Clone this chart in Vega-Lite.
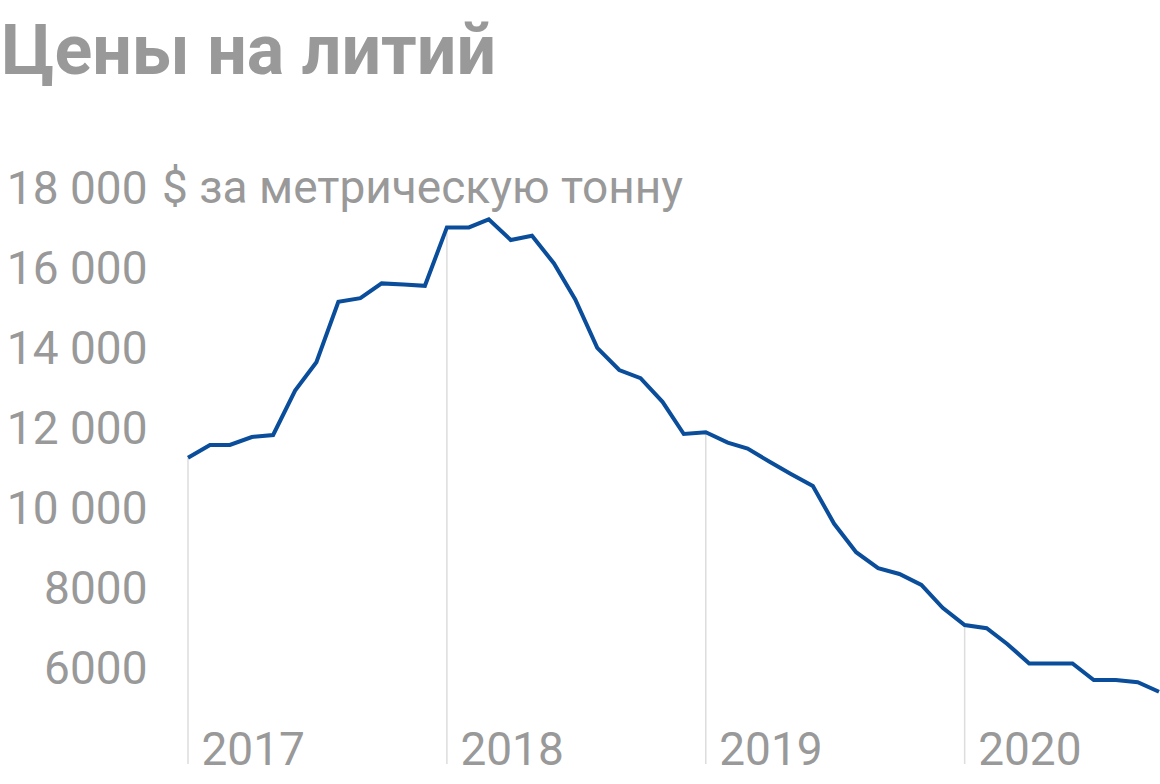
{
  "$schema": "https://vega.github.io/schema/vega-lite/v6.json",
  "autosize": "none",
  "width": 971,
  "height": 575,
  "padding": {"left": 188, "top": 189, "right": 1, "bottom": 20},
  "background": "white",
  "title": {
    "text": "Цены на литий",
    "font": "Roboto",
    "fontSize": 70,
    "fontWeight": "bold",
    "color": "#999999",
    "anchor": "start",
    "frame": "bounds",
    "baseline": "alphabetic",
    "offset": 22,
    "dx": -5
  },
  "data": {
    "values": [
      {"date": "2017-01-01", "price": 11280},
      {"date": "2017-02-01", "price": 11600},
      {"date": "2017-03-01", "price": 11600},
      {"date": "2017-04-01", "price": 11800},
      {"date": "2017-05-01", "price": 11850},
      {"date": "2017-06-01", "price": 12960},
      {"date": "2017-07-01", "price": 13670},
      {"date": "2017-08-01", "price": 15180},
      {"date": "2017-09-01", "price": 15270},
      {"date": "2017-10-01", "price": 15640},
      {"date": "2017-11-01", "price": 15610},
      {"date": "2017-12-01", "price": 15580},
      {"date": "2018-01-01", "price": 17040},
      {"date": "2018-02-01", "price": 17040},
      {"date": "2018-03-01", "price": 17240},
      {"date": "2018-04-01", "price": 16725},
      {"date": "2018-05-01", "price": 16830},
      {"date": "2018-06-01", "price": 16140},
      {"date": "2018-07-01", "price": 15240},
      {"date": "2018-08-01", "price": 14030},
      {"date": "2018-09-01", "price": 13475},
      {"date": "2018-10-01", "price": 13270},
      {"date": "2018-11-01", "price": 12680},
      {"date": "2018-12-01", "price": 11875},
      {"date": "2019-01-01", "price": 11920},
      {"date": "2019-02-01", "price": 11660},
      {"date": "2019-03-01", "price": 11510},
      {"date": "2019-04-01", "price": 11180},
      {"date": "2019-05-01", "price": 10875},
      {"date": "2019-06-01", "price": 10575},
      {"date": "2019-07-01", "price": 9630},
      {"date": "2019-08-01", "price": 8920},
      {"date": "2019-09-01", "price": 8520},
      {"date": "2019-10-01", "price": 8375},
      {"date": "2019-11-01", "price": 8100},
      {"date": "2019-12-01", "price": 7530},
      {"date": "2020-01-01", "price": 7100},
      {"date": "2020-02-01", "price": 7020},
      {"date": "2020-03-01", "price": 6625},
      {"date": "2020-04-01", "price": 6140},
      {"date": "2020-05-01", "price": 6140},
      {"date": "2020-06-01", "price": 6140},
      {"date": "2020-07-01", "price": 5725},
      {"date": "2020-08-01", "price": 5725},
      {"date": "2020-09-01", "price": 5670},
      {"date": "2020-10-01", "price": 5430}
    ]
  },
  "encoding": {
    "x": {
      "field": "date",
      "type": "temporal",
      "scale": {
        "type": "utc",
        "domain": [
          {"year": 2017, "month": 1, "date": 1, "utc": true},
          {"year": 2020, "month": 10, "date": 1, "utc": true}
        ]
      },
      "axis": {
        "title": null,
        "values": [
          {"year": 2017, "month": 1, "date": 1, "utc": true},
          {"year": 2018, "month": 1, "date": 1, "utc": true},
          {"year": 2019, "month": 1, "date": 1, "utc": true},
          {"year": 2020, "month": 1, "date": 1, "utc": true}
        ],
        "format": "%Y",
        "labelAlign": "left",
        "labelOffset": 13,
        "labelBaseline": "alphabetic",
        "labelPadding": 0,
        "domain": false,
        "ticks": false,
        "grid": false
      }
    },
    "y": {
      "field": "price",
      "type": "quantitative",
      "scale": {"domain": [3625, 18000], "nice": false, "zero": false},
      "axis": {
        "title": null,
        "values": [6000, 8000, 10000, 12000, 14000, 16000, 18000],
        "labelExpr": "datum.value >= 10000 ? replace(format(datum.value, ','), ',', ' ') : format(datum.value, 'd')",
        "labelPadding": 41,
        "domain": false,
        "ticks": false,
        "grid": false
      }
    }
  },
  "layer": [
    {
      "transform": [{"filter": "utcmonth(datum.date) == 0"}],
      "mark": {"type": "rule", "color": "#dddddd", "strokeWidth": 1.5},
      "encoding": {
        "y2": {"datum": 3625}
      }
    },
    {
      "mark": {"type": "line", "color": "#0a4d9a", "strokeWidth": 4, "strokeJoin": "miter"}
    },
    {
      "transform": [{"filter": "utcmonth(datum.date) == 0 && utcyear(datum.date) == 2017"}],
      "mark": {
        "type": "text",
        "text": "$ за метрическую тонну",
        "font": "Roboto",
        "fontSize": 46,
        "color": "#999999",
        "align": "left",
        "baseline": "middle",
        "dx": -26
      },
      "encoding": {
        "y": {"datum": 18000}
      }
    }
  ],
  "config": {
    "view": {"stroke": null},
    "axis": {
      "labelFont": "Roboto",
      "labelFontSize": 46,
      "labelColor": "#999999",
      "labelFontWeight": "normal"
    }
  }
}
